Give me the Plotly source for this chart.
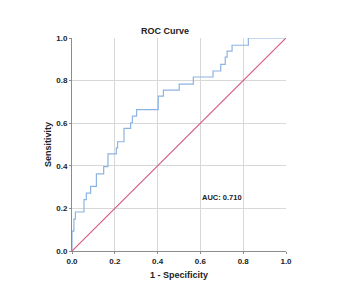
import plotly.graph_objects as go

# ROC curve vertices (1 - specificity, sensitivity)
fpr = [0.0, 0.0, 0.009, 0.009, 0.016, 0.016, 0.056, 0.056, 0.067, 0.067,
       0.087, 0.087, 0.114, 0.114, 0.148, 0.148, 0.168, 0.168, 0.207, 0.207,
       0.213, 0.213, 0.243, 0.243, 0.274, 0.274, 0.282, 0.282, 0.302, 0.302,
       0.403, 0.403, 0.427, 0.427, 0.501, 0.501, 0.567, 0.567, 0.659, 0.659,
       0.695, 0.695, 0.716, 0.716, 0.725, 0.725, 0.748, 0.748, 0.824, 0.824, 1.0]
tpr = [0.0, 0.093, 0.093, 0.15, 0.15, 0.183, 0.183, 0.241, 0.241, 0.272,
       0.272, 0.303, 0.303, 0.362, 0.362, 0.396, 0.396, 0.456, 0.456, 0.484,
       0.484, 0.513, 0.513, 0.576, 0.576, 0.602, 0.602, 0.633, 0.633, 0.664,
       0.664, 0.727, 0.727, 0.755, 0.755, 0.783, 0.783, 0.817, 0.817, 0.845,
       0.845, 0.876, 0.876, 0.91, 0.91, 0.938, 0.938, 0.966, 0.966, 1.0, 1.0]
ref_x = [0.0, 1.0]
ref_y = [0.0, 1.0]
tick_vals = [0.0, 0.2, 0.4, 0.6, 0.8, 1.0]
tick_text = ["0.0", "0.2", "0.4", "0.6", "0.8", "1.0"]
auc_text = "AUC: 0.710"
auc_pos = (0.6, 0.25)

FONT = "Liberation Sans, Arial, sans-serif"

fig = go.Figure()
fig.add_trace(go.Scatter(x=fpr, y=tpr, mode="lines",
                         line=dict(color="#8db3e2", width=1.2),
                         showlegend=False, hoverinfo="skip"))
fig.add_trace(go.Scatter(x=ref_x, y=ref_y, mode="lines",
                         line=dict(color="#d95b7f", width=1.2),
                         showlegend=False, hoverinfo="skip"))

axis_common = dict(
    range=[0, 1], tickvals=tick_vals, ticktext=tick_text,
    showgrid=True, gridcolor="#d8d8d8", gridwidth=1,
    showline=True, linecolor="#8c8c8c", linewidth=1,
    ticks="outside", ticklen=2, tickcolor="#8c8c8c",
    tickfont=dict(family=FONT, size=8, color="#222222", weight="bold"),
    zeroline=False, fixedrange=True,
)

# page body has an 8px default margin, so the figure is sized/offset for it
fig.update_layout(
    width=332, height=285,
    margin=dict(l=64, r=54, t=30, b=42),
    paper_bgcolor="white", plot_bgcolor="white",
    xaxis=dict(**axis_common,
               title=dict(text="1 - Specificity", standoff=7,
                          font=dict(family=FONT, size=9, color="#222222", weight="bold"))),
    yaxis=dict(**axis_common,
               title=dict(text="Sensitivity", standoff=3,
                          font=dict(family=FONT, size=9, color="#222222", weight="bold"))),
    annotations=[
        dict(text="ROC Curve", xref="paper", yref="paper", x=0.435, y=1.0,
             xanchor="center", yanchor="bottom", yshift=0, showarrow=False,
             font=dict(family=FONT, size=9, color="#222222", weight="bold")),
        dict(text=auc_text, xref="x", yref="y", x=auc_pos[0], y=auc_pos[1],
             xanchor="left", yanchor="middle", showarrow=False,
             font=dict(family=FONT, size=7.5, color="#222222", weight="bold")),
    ],
)

fig.write_html("out.html")
